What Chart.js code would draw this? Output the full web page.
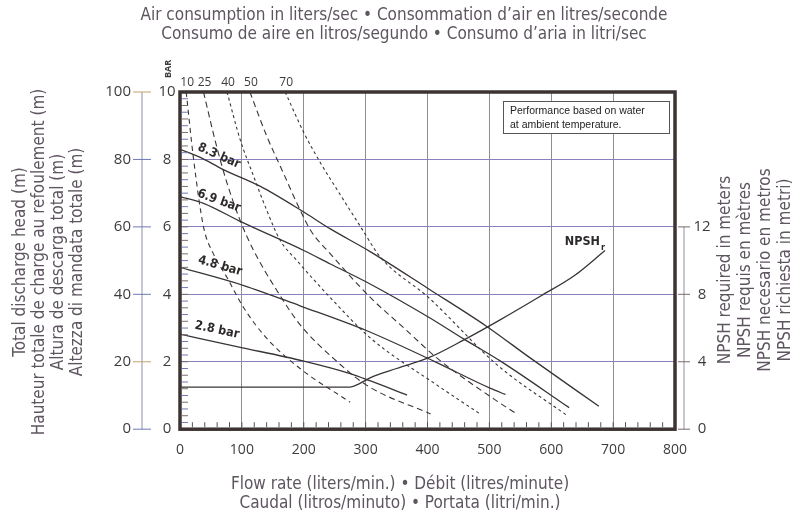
<!DOCTYPE html>
<html>
<head>
<meta charset="utf-8">
<script src="https://cdn.jsdelivr.net/npm/chart.js@4.4.1/dist/chart.umd.min.js"></script>
<style>
  html, body { margin: 0; padding: 0; background: #fff; }
  #wrap { width: 805px; height: 520px; }
</style>
</head>
<body>
<div id="wrap"><canvas id="pump" width="805" height="520"></canvas></div>
<script>
// ── Data ──────────────────────────────────────────────────
// flow in l/min, head in m (NPSH in m on its own 0–20 scale)
const headTicks = [0, 20, 40, 60, 80, 100];
const barTicks  = [0, 2, 4, 6, 8, 10];
const npshTicks = [0, 4, 8, 12];
const airLabels = ['10', '25', '40', '50', '70'];
const barLabels = ['8.3 bar', '6.9 bar', '4.8 bar', '2.8 bar'];

// air consumption lines (l/s)
const air10 = [[10,100],[22,80],[38,60],[54,52],[76,45],[103,36],[140,27],[194,18],[275,8]];
const air25 = [[38,100],[59,84],[76,73],[97,62],[119,53],[157,41],[194,31],[248,21],[302,13],[405,4.5]];
const air40 = [[76,100],[97,86],[119,75],[140,65],[162,56],[189,50],[243,39],[308,27],[416,13],[486,4.4]];
const air50 = [[113,100],[140,87],[167,76],[189,67],[211,59],[243,52],[308,39],[362,30],[416,21],[507,9],[545,4.4]];
const air70 = [[170,100],[200,88],[227,79],[254,71],[292,60],[324,51],[402,39],[513,19],[626,4]];

// air inlet pressure curves
const p83 = [[0,83],[32,80.7],[70,77],[130,72],[200,64.4],[243,59.4],[308,52.6],[402,41.6],[494,30.7],[567,21],[677,6.8]];
const p69 = [[0,69],[38,67],[100,61.4],[200,53],[243,49],[308,43],[402,33.2],[459,26.7],[518,20.2],[629,6.4]];
const p48 = [[0,48],[103,42.6],[194,36.6],[302,29.2],[410,20.2],[502,12.1],[526,10.3]];
const p28 = [[0,28.2],[92,24.5],[200,20.2],[275,16.5],[308,14.3],[367,10.1]];

// NPSH required (m)
const npsh = [[0,2.5],[275,2.5],[290,2.7],[308,3.06],[350,3.6],[402,4.24],[459,5.3],[518,6.5],[583,7.9],[637,9.1],[687,10.6]];

// ── look ──────────────────────────────────────────────────
const INK    = '#3a3434';
const FRAME  = '#3d3333';
const TXT    = '#5e5560';
const NUM    = '#3c3c3c';
const HGRID  = '#8a80bf';
const VGRID  = '#8e8e8e';
const TITLE_FONT = '"Liberation Sans Narrow", "DejaVu Sans Condensed", sans-serif';
const NUM_FONT   = '"Open Sans", "Liberation Sans", sans-serif';

const pts = arr => arr.map(([x, y]) => ({ x, y }));

const airSets = [air10, air25, air40, air50, air70];
const airDash = [[5, 4], [6, 4], [3, 3], [6, 4], [3, 3]];
const presSets = [p83, p69, p48, p28];

const datasets = [
  ...airSets.map((s, i) => ({
    data: pts(s), borderColor: INK, borderWidth: 1.1, borderDash: airDash[i],
    pointRadius: 0, cubicInterpolationMode: 'monotone', yAxisID: 'y',
  })),
  ...presSets.map(s => ({
    data: pts(s), borderColor: INK, borderWidth: 1.3,
    pointRadius: 0, cubicInterpolationMode: 'monotone', yAxisID: 'y',
  })),
  {
    data: pts(npsh), borderColor: INK, borderWidth: 1.3,
    pointRadius: 0, cubicInterpolationMode: 'monotone', yAxisID: 'y1',
  },
];

// rotated label helper
function rotText(ctx, txt, x, y, ang) {
  ctx.save();
  ctx.translate(x, y);
  ctx.rotate(ang);
  ctx.fillText(txt, 0, 0);
  ctx.restore();
}

// ── everything the sheet prints around the plot ───────────
const decor = {
  id: 'decor',
  afterDatasetsDraw(chart) {
    const { ctx, chartArea: a, scales: { x, y, y1 } } = chart;
    ctx.save();

    // heavy frame
    ctx.strokeStyle = FRAME;
    ctx.lineWidth = 3.5;
    ctx.strokeRect(a.left, a.top, a.right - a.left, a.bottom - a.top);

    // minor ticks inside the frame
    ctx.lineWidth = 1;
    ctx.strokeStyle = '#555';
    for (let v = 20; v < 800; v += 20) {
      const px = x.getPixelForValue(v);
      ctx.beginPath(); ctx.moveTo(px, a.bottom - 2); ctx.lineTo(px, a.bottom - 7); ctx.stroke();
    }
    for (let v = 2; v < 100; v += 2) {
      const py = y.getPixelForValue(v);
      ctx.strokeStyle = v % 4 ? '#6f79b8' : '#7a6f6f';
      ctx.beginPath(); ctx.moveTo(a.left + 2, py); ctx.lineTo(a.left + 8, py); ctx.stroke();
    }

    // outer head axis (m) + bar column
    const axX = 142;
    ctx.strokeStyle = '#8d8fa5';
    ctx.beginPath(); ctx.moveTo(axX, y.getPixelForValue(0)); ctx.lineTo(axX, y.getPixelForValue(100)); ctx.stroke();
    ctx.font = '15px ' + NUM_FONT;
    ctx.fillStyle = NUM;
    ctx.textBaseline = 'middle';
    headTicks.forEach((v, i) => {
      const py = y.getPixelForValue(v);
      ctx.strokeStyle = (v === 20 || v === 100) ? '#c8a070' : '#6f79b8';
      ctx.beginPath(); ctx.moveTo(axX - 9, py); ctx.lineTo(axX + 9, py); ctx.stroke();
      ctx.textAlign = 'right';
      ctx.fillText(String(v), 131, py);
      ctx.textAlign = 'center';
      ctx.fillText(String(barTicks[i]), 167, py);
    });
    ctx.font = 'bold 9px ' + NUM_FONT;
    ctx.textAlign = 'center';
    rotText(ctx, 'BAR', 168, 69, -Math.PI / 2);

    // air consumption labels along the top edge
    ctx.font = '12px ' + NUM_FONT;
    ctx.textBaseline = 'alphabetic';
    airSets.forEach((s, i) => {
      ctx.fillText(airLabels[i], x.getPixelForValue(s[0][0]) + 1, 86);
    });

    // NPSH axis on the right
    const rX = 684;
    ctx.strokeStyle = '#8d8fa5';
    ctx.beginPath(); ctx.moveTo(rX, y1.getPixelForValue(0)); ctx.lineTo(rX, y1.getPixelForValue(12)); ctx.stroke();
    ctx.font = '15px ' + NUM_FONT;
    ctx.textBaseline = 'middle';
    npshTicks.forEach(v => {
      const py = y1.getPixelForValue(v);
      ctx.strokeStyle = '#7a6a6a';
      ctx.beginPath(); ctx.moveTo(rX - 6, py); ctx.lineTo(rX + 6, py); ctx.stroke();
      ctx.fillText(String(v), 702, py);
    });

    // titles
    ctx.fillStyle = TXT;
    ctx.font = '17px ' + TITLE_FONT;
    ctx.textAlign = 'center';
    ctx.textBaseline = 'middle';
    ctx.fillText('Air consumption in liters/sec \u2022 Consommation d\u2019air en litres/seconde', 404, 16);
    ctx.fillText('Consumo de aire en litros/segundo \u2022 Consumo d\u2019aria in litri/sec', 404, 35);
    ctx.fillText('Flow rate (liters/min.) \u2022 D\u00e9bit (litres/minute)', 400, 485);
    ctx.fillText('Caudal (litros/minuto) \u2022 Portata (litri/min.)', 400, 504);

    const leftT = ['Total discharge head (m)', 'Hauteur totale de charge au refoulement (m)',
                   'Altura de descarga total (m)', 'Altezza di mandata totale (m)'];
    leftT.forEach((t, i) => rotText(ctx, t, 21 + i * 19, 262, -Math.PI / 2));
    const rightT = ['NPSH required in meters', 'NPSH requis en m\u00e8tres',
                    'NPSH necesario en metros', 'NPSH richiesta in metri)'];
    rightT.forEach((t, i) => rotText(ctx, t, 726 + i * 20, 270, -Math.PI / 2));

    // note box
    ctx.fillStyle = '#fff';
    ctx.fillRect(503, 101, 166, 32);
    ctx.strokeStyle = '#555';
    ctx.lineWidth = 1;
    ctx.strokeRect(503.5, 101.5, 166, 32);
    ctx.fillStyle = '#222';
    ctx.font = '10.5px "Liberation Sans", sans-serif';
    ctx.textAlign = 'left';
    ctx.fillText('Performance based on water', 510, 111);
    ctx.fillText('at ambient temperature.', 510, 125);

    // pressure labels
    ctx.fillStyle = '#2e2a2a';
    ctx.font = 'bold 12.5px ' + TITLE_FONT;
    ctx.textAlign = 'center';
    const lab = [[219, 156, 24], [219, 201, 20], [220, 266, 16], [217, 330, 12]];
    barLabels.forEach((t, i) => rotText(ctx, t, lab[i][0], lab[i][1], lab[i][2] * Math.PI / 180));

    // NPSHr label
    ctx.font = 'bold 12.5px ' + TITLE_FONT;
    ctx.textAlign = 'right';
    ctx.fillText('NPSH', 600, 242);
    ctx.font = 'bold 9px ' + TITLE_FONT;
    ctx.textAlign = 'left';
    ctx.fillText('r', 601, 248);

    ctx.restore();
  },
};

new Chart(document.getElementById('pump'), {
  type: 'line',
  data: { datasets },
  options: {
    responsive: false,
    animation: false,
    layout: { padding: { left: 180, right: 130, top: 92, bottom: 50 } },
    plugins: { legend: { display: false }, tooltip: { enabled: false } },
    scales: {
      x: {
        type: 'linear', min: 0, max: 800,
        ticks: { stepSize: 100, color: NUM, font: { family: NUM_FONT, size: 14 }, padding: 12 },
        grid: { color: VGRID, lineWidth: 1, drawTicks: false },
        border: { display: false },
      },
      y: {
        min: 0, max: 100,
        ticks: { display: false, stepSize: 20 },
        grid: { color: HGRID, lineWidth: 1, drawTicks: false },
        border: { display: false },
      },
      y1: { display: false, min: 0, max: 20 },
    },
  },
  plugins: [decor],
});
</script>
</body>
</html>
